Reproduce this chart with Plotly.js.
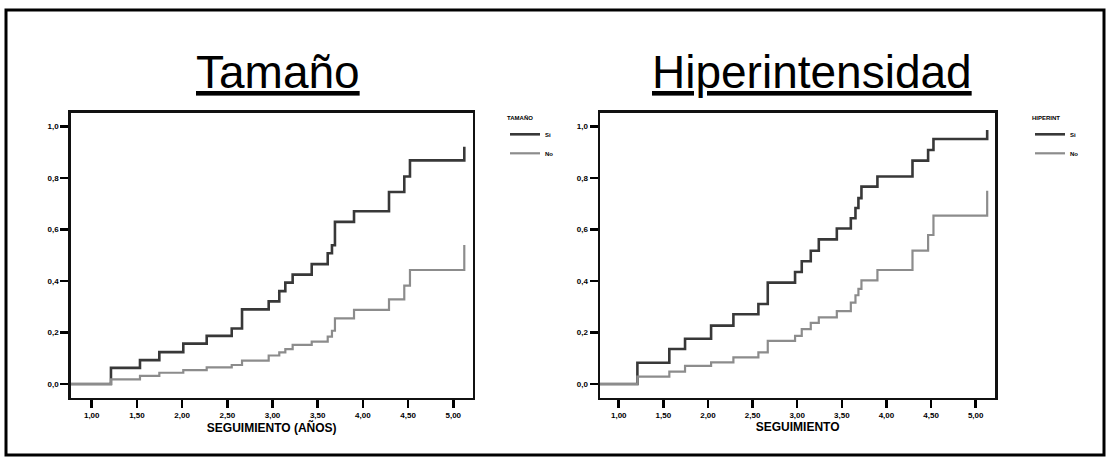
<!DOCTYPE html>
<html>
<head>
<meta charset="utf-8">
<script src="https://cdn.plot.ly/plotly-3.0.1.min.js"></script>
<style>html,body{margin:0;padding:0;background:#fff;}#chart{width:1110px;height:465px;}</style>
</head>
<body>
<div id="chart"></div>
<script>
// ---- data ----
const panelTitles = ["Tamaño", "Hiperintensidad"];
const xAxisTitles = ["SEGUIMIENTO (AÑOS)", "SEGUIMIENTO"];
const legendTitles = ["TAMAÑO", "HIPERINT"];
const groupNames = ["Si", "No"];
const xTickVals = [1, 1.5, 2, 2.5, 3, 3.5, 4, 4.5, 5];
const xTickText = ["1,00", "1,50", "2,00", "2,50", "3,00", "3,50", "4,00", "4,50", "5,00"];
const yTickVals = [0, 0.2, 0.4, 0.6, 0.8, 1.0];
const yTickText = ["0,0", "0,2", "0,4", "0,6", "0,8", "1,0"];

// Tamaño panel
const tamTimes = [0.77, 1.213, 1.534, 1.748, 2.013, 2.272, 2.549, 2.663, 2.958, 3.075, 3.142, 3.223, 3.434, 3.611, 3.658, 3.691, 3.902, 4.289, 4.458, 4.521, 5.122];
const tamSi = [0, 0.063, 0.093, 0.124, 0.157, 0.187, 0.216, 0.290, 0.321, 0.361, 0.394, 0.425, 0.466, 0.508, 0.539, 0.630, 0.671, 0.746, 0.806, 0.869, 0.922];
const tamNo = [0, 0.018, 0.032, 0.044, 0.054, 0.065, 0.074, 0.091, 0.111, 0.123, 0.136, 0.152, 0.165, 0.184, 0.207, 0.255, 0.288, 0.329, 0.382, 0.443, 0.540];

// Hiperintensidad panel
const hipTimes = [0.79, 1.209, 1.567, 1.743, 2.035, 2.285, 2.565, 2.670, 2.976, 3.051, 3.152, 3.242, 3.444, 3.601, 3.653, 3.686, 3.720, 3.899, 4.292, 4.467, 4.527, 5.129];
const hipSi = [0, 0.083, 0.136, 0.176, 0.227, 0.271, 0.311, 0.394, 0.435, 0.477, 0.518, 0.562, 0.604, 0.644, 0.684, 0.722, 0.767, 0.806, 0.868, 0.909, 0.952, 0.987];
const hipNo = [0, 0.029, 0.048, 0.071, 0.084, 0.104, 0.123, 0.168, 0.187, 0.213, 0.238, 0.259, 0.283, 0.316, 0.345, 0.370, 0.403, 0.443, 0.518, 0.579, 0.654, 0.751];

// ---- styling ----
const W = 1110, H = 465;
const darkCol = "#383838", grayCol = "#8c8c8c";
const baseFont = "Arial, 'Liberation Sans', sans-serif";

function trace(x, y, name, color, width, xa, ya, leg) {
  return {x: x, y: y, name: name, type: "scatter", mode: "lines",
    line: {shape: "hv", color: color, width: width},
    xaxis: xa, yaxis: ya, legend: leg, hoverinfo: "skip"};
}

const data = [
  trace(tamTimes, tamSi, groupNames[0], darkCol, 2.6, "x", "y", "legend"),
  trace(tamTimes, tamNo, groupNames[1], grayCol, 2.2, "x", "y", "legend"),
  trace(hipTimes, hipSi, groupNames[0], darkCol, 2.6, "x2", "y2", "legend2"),
  trace(hipTimes, hipNo, groupNames[1], grayCol, 2.2, "x2", "y2", "legend2")
];

function xax(domain, range, title, anchor) {
  return {domain: domain, range: range, anchor: anchor,
    tickvals: xTickVals, ticktext: xTickText,
    ticks: "outside", ticklen: 8, tickwidth: 2.5, tickcolor: "#000",
    showline: true, mirror: true, linewidth: 2.5, linecolor: "#111",
    showgrid: false, zeroline: false,
    tickfont: {family: baseFont, size: 8, color: "#000", weight: "bold"},
    title: {text: title, standoff: 2, font: {family: baseFont, size: 12, color: "#000", weight: "bold"}}};
}
function yax(domain, anchor) {
  return {domain: domain, range: [-0.053, 1.054], anchor: anchor,
    tickvals: yTickVals, ticktext: yTickText,
    ticks: "outside", ticklen: 8, tickwidth: 2.5, tickcolor: "#000",
    showline: true, mirror: true, linewidth: 2.5, linecolor: "#111",
    showgrid: false, zeroline: false,
    tickfont: {family: baseFont, size: 8, color: "#000", weight: "bold"}};
}

const yDom = [67.3 / H, 352.3 / H];
const legFont = {family: baseFont, size: 6, color: "#000", weight: "bold"};

const layout = {
  width: W, height: H,
  margin: {l: 0, r: 0, t: 0, b: 0},
  paper_bgcolor: "#fff", plot_bgcolor: "#fff",
  showlegend: true,
  xaxis: xax([70.7 / W, 472.7 / W], [0.7675, 5.215], xAxisTitles[0], "y"),
  yaxis: yax(yDom, "x"),
  xaxis2: xax([600 / W, 995.3 / W], [0.79, 5.22], xAxisTitles[1], "y2"),
  yaxis2: yax(yDom, "x2"),
  legend: {x: 505 / W, xanchor: "left", y: 1 - 112 / H, yanchor: "top",
    bgcolor: "rgba(0,0,0,0)", borderwidth: 0, font: legFont, tracegroupgap: 0,
    itemwidth: 30, title: {text: legendTitles[0], font: legFont}},
  legend2: {x: 1030 / W, xanchor: "left", y: 1 - 112 / H, yanchor: "top",
    bgcolor: "rgba(0,0,0,0)", borderwidth: 0, font: legFont, tracegroupgap: 0,
    itemwidth: 30, title: {text: legendTitles[1], font: legFont}},
  annotations: [
    {text: "<u>" + panelTitles[0] + "</u>", xref: "paper", yref: "paper",
      x: 278 / W, y: 1 - 72 / H, xanchor: "center", yanchor: "middle", showarrow: false,
      font: {family: baseFont, size: 46, color: "#000"}},
    {text: "<u>" + panelTitles[1] + "</u>", xref: "paper", yref: "paper",
      x: 812 / W, y: 1 - 72 / H, xanchor: "center", yanchor: "middle", showarrow: false,
      font: {family: baseFont, size: 46, color: "#000"}}
  ],
  shapes: [
    {type: "rect", xref: "paper", yref: "paper",
      x0: 6 / W, x1: 1104 / W, y0: 1 - 455 / H, y1: 1 - 10 / H,
      line: {color: "#000", width: 3}, fillcolor: "rgba(0,0,0,0)"}
  ]
};

Plotly.newPlot("chart", data, layout, {displayModeBar: false, staticPlot: true});
</script>
</body>
</html>
